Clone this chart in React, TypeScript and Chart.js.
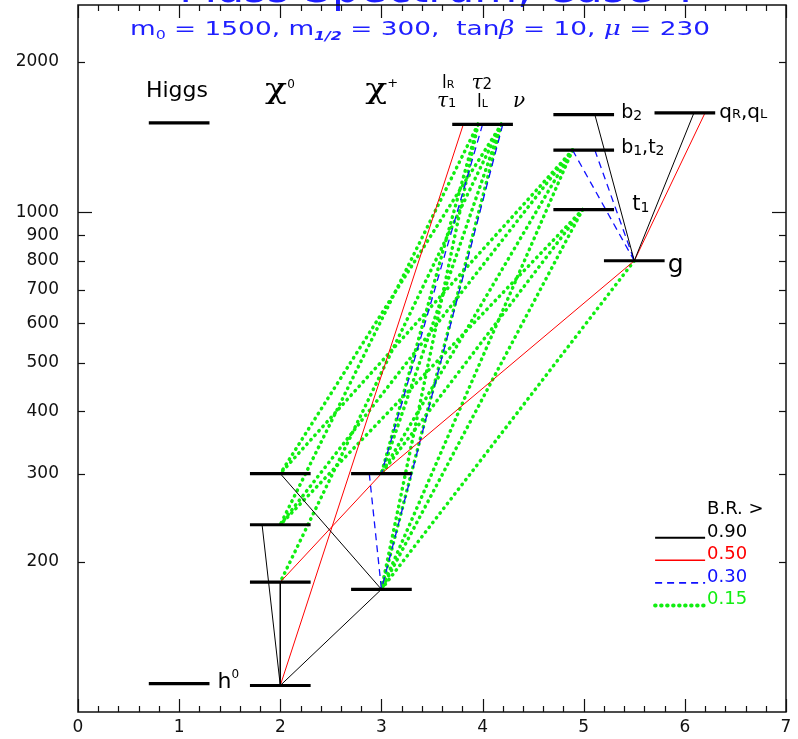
import React, { useEffect, useRef } from "react";
import { Chart, registerables } from "chart.js";
Chart.register(...registerables);

const SANS = '"DejaVu Sans", "Liberation Sans", Arial, sans-serif';
const SERIF = '"DejaVu Serif", "Liberation Serif", serif';

// axis ticks
const xTicks = [0, 1, 2, 3, 4, 5, 6, 7];
const yTicks = [200, 300, 400, 500, 600, 700, 800, 900, 1000, 2000];

// sparticle mass levels (GeV)
const levelNames = ["H", "h0", "chi01", "chi02", "chi03", "chi04", "chi+1", "chi+2", "sleptons", "b2", "b1,t2", "t1", "g", "qR,qL"];
const levelX = [1, 1, 2, 2, 2, 2, 3, 3, 4, 5, 5, 5, 5.5, 6];
const levelMass = [1510, 114, 113, 182, 237, 300, 176, 300, 1500, 1569, 1332, 1013, 800, 1582];

// decays: [fromX, fromMass, toX, toMass]
const decaysBR090 = [
  [2.0, 300, 3.0, 176],
  [1.82, 237, 2.0, 113],
  [2.0, 182, 2.0, 113],
  [3.0, 176, 2.0, 113],
  [5.11, 1569, 5.5, 800],
  [6.09, 1582, 5.5, 800],
];
const decaysBR050 = [
  [6.2, 1582, 5.5, 800],
  [3.81, 1500, 2.0, 113],
  [5.5, 800, 3.0, 300],
  [3.0, 300, 2.0, 182],
];
const decaysBR030 = [
  [2.88, 300, 3.0, 176],
  [4.0, 1500, 3.0, 300],
  [4.2, 1500, 3.0, 176],
  [4.89, 1332, 5.5, 800],
  [5.11, 1332, 5.5, 800],
];
const decaysBR015 = [
  [3.955, 1500, 2.0, 237],
  [3.955, 1500, 3.0, 176],
  [3.955, 1500, 3.0, 300],
  [4.186, 1500, 2.0, 300],
  [4.186, 1500, 2.0, 182],
  [4.186, 1500, 3.0, 176],
  [4.186, 1500, 3.0, 300],
  [4.89, 1332, 2.0, 300],
  [4.89, 1332, 2.0, 237],
  [4.89, 1332, 3.0, 300],
  [4.89, 1332, 3.0, 176],
  [4.99, 1013, 2.0, 237],
  [4.99, 1013, 3.0, 300],
  [4.99, 1013, 3.0, 176],
  [5.5, 800, 3.0, 176],
];

const brLabels = ["0.90", "0.50", "0.30", "0.15"];
const brColors = ["#000000", "#ff0000", "#1010ff", "#11ee11"];
const brWidths = [1, 1, 1.3, 3.5];
const brDashes = [[], [], [7, 5], [0.5, 5.5]];

type Run = [string, string, number?, number?];
// draws runs of text; optional per-run horizontal stretch
function drawRuns(ctx: CanvasRenderingContext2D, x: number, y: number, runs: Run[], measureOnly = false) {
  let cx = x;
  for (const [t, f, dy = 0, sx = 1] of runs) {
    ctx.font = f;
    const w = ctx.measureText(t).width * sx;
    if (!measureOnly) {
      ctx.save();
      ctx.translate(cx, y + dy);
      ctx.scale(sx, 1);
      ctx.fillText(t, 0, 0);
      ctx.restore();
    }
    cx += w;
  }
  return cx - x;
}

const decorPlugin = {
  id: "decor",
  afterDraw(chart: any) {
    const { ctx, chartArea: a, scales } = chart;
    const xs = scales.x;
    const ys = scales.y;
    const P = (xv: number, mv: number) => [xs.getPixelForValue(xv), ys.getPixelForValue(mv)];
    ctx.save();
    ctx.textAlign = "left";
    ctx.textBaseline = "alphabetic";

    // title (cut off at the top edge), drawn under the frame
    ctx.fillStyle = "#1f1fff";
    ctx.font = `44px ${SANS}`;
    ctx.textAlign = "center";
    ctx.fillText("Mass Spectrum, Case 4", 437, 2);
    ctx.textAlign = "left";

    // frame
    ctx.strokeStyle = "#111";
    ctx.lineWidth = 1.5;
    ctx.setLineDash([]);
    ctx.strokeRect(a.left, a.top, a.right - a.left, a.bottom - a.top);
    ctx.lineWidth = 1.2;
    const seg = (x0: number, y0: number, x1: number, y1: number) => {
      ctx.beginPath();
      ctx.moveTo(x0, y0);
      ctx.lineTo(x1, y1);
      ctx.stroke();
    };
    for (let i = 0; i <= 35; i++) {
      const px = Math.round(xs.getPixelForValue(i * 0.2)) + 0.5;
      const len = i % 5 === 0 ? 13 : 6;
      seg(px, a.bottom, px, a.bottom - len);
      seg(px, a.top, px, a.top + len);
    }
    for (const v of yTicks) {
      const py = Math.round(ys.getPixelForValue(v)) + 0.5;
      const len = v === 1000 ? 14 : 7;
      seg(a.left, py, a.left + len, py);
      seg(a.right, py, a.right - len, py);
    }

    // subtitle
    ctx.fillStyle = "#1f1fff";
    const sub: Run[] = [
      ["m", `20px ${SANS}`],
      ["0", `12px ${SANS}`, 4],
      [" = 1500, m", `20px ${SANS}`],
      ["1/2", `italic bold 12px ${SANS}`, 5],
      [" = 300,  tan", `20px ${SANS}`],
      ["β", `italic 20px ${SERIF}`],
      [" = 10, ", `20px ${SANS}`],
      ["μ", `italic 20px ${SERIF}`],
      [" = 230", `20px ${SANS}`],
    ];
    const w = drawRuns(ctx, 0, 0, sub, true);
    const sxs = 580 / w;
    ctx.save();
    ctx.translate(420 - 290, 35);
    ctx.scale(sxs, 1);
    drawRuns(ctx, 0, 0, sub);
    ctx.restore();

    // particle labels
    ctx.fillStyle = "#000";
    let p = P(0.672, 1700);
    drawRuns(ctx, p[0], p[1], [["Higgs", `22px ${SANS}`]]);
    p = P(1.85, 1690);
    drawRuns(ctx, p[0], p[1], [["χ", `28px ${SERIF}`, 0, 1.3], ["0", `12px ${SANS}`, -10]]);
    p = P(2.84, 1690);
    drawRuns(ctx, p[0], p[1], [["χ", `28px ${SERIF}`, 0, 1.3], ["+", `13px ${SANS}`, -11]]);
    p = P(3.6, 1777);
    drawRuns(ctx, p[0], p[1], [["l", `17px ${SANS}`], ["R", `11px ${SANS}`]]);
    p = P(3.89, 1769);
    drawRuns(ctx, p[0], p[1], [["τ", `italic 20px ${SERIF}`], ["2", `15px ${SANS}`]]);
    p = P(3.55, 1625);
    drawRuns(ctx, p[0], p[1], [["τ", `italic 20px ${SERIF}`], ["1", `13px ${SANS}`]]);
    p = P(3.945, 1625);
    drawRuns(ctx, p[0], p[1], [["l", `17px ${SANS}`], ["L", `11px ${SANS}`]]);
    p = P(4.3, 1625);
    drawRuns(ctx, p[0], p[1], [["ν", `italic 20px ${SERIF}`]]);
    p = P(5.37, 1544);
    drawRuns(ctx, p[0], p[1], [["b", `19px ${SANS}`], ["2", `14px ${SANS}`, 2]]);
    p = P(5.37, 1312);
    drawRuns(ctx, p[0], p[1], [["b", `19px ${SANS}`], ["1", `14px ${SANS}`, 2], [",", `19px ${SANS}`], ["t", `19px ${SANS}`], ["2", `14px ${SANS}`, 2]]);
    p = P(5.48, 1009);
    drawRuns(ctx, p[0], p[1], [["t", `21px ${SANS}`], ["1", `14px ${SANS}`, 2]]);
    p = P(5.83, 760);
    drawRuns(ctx, p[0], p[1], [["g", `25px ${SANS}`]]);
    p = P(6.34, 1544);
    drawRuns(ctx, p[0], p[1], [["q", `20px ${SANS}`], ["R", `13px ${SANS}`], [",", `20px ${SANS}`], ["q", `20px ${SANS}`], ["L", `13px ${SANS}`]]);
    p = P(1.38, 111.7);
    drawRuns(ctx, p[0], p[1], [["h", `22px ${SANS}`], ["0", `12px ${SANS}`, -10]]);

    // legend
    p = P(6.22, 249);
    ctx.font = `18px ${SANS}`;
    ctx.fillStyle = "#000";
    ctx.fillText("B.R. >", p[0], p[1]);
    brLabels.forEach((lbl, k) => {
      const by = p[1] + 22.6 * (k + 1);
      ctx.fillStyle = brColors[k];
      ctx.font = `18px ${SANS}`;
      ctx.fillText(lbl, p[0], by);
      ctx.strokeStyle = brColors[k];
      ctx.lineWidth = k === 0 ? 2 : brWidths[k] + 0.5;
      ctx.lineCap = k === 3 ? "round" : "butt";
      ctx.setLineDash(brDashes[k]);
      seg(p[0] - 52, by + 1, p[0] - 2, by + 1);
    });
    ctx.restore();
  },
};

export default function App() {
  const ref = useRef<HTMLCanvasElement>(null);
  useEffect(() => {
    document.body.style.margin = "0";
    const datasets: any[] = [];
    levelX.forEach((cx, i) => {
      datasets.push({
        label: levelNames[i],
        data: [
          { x: cx - 0.3, y: levelMass[i] },
          { x: cx + 0.3, y: levelMass[i] },
        ],
        borderColor: "#000",
        borderWidth: 3.2,
        showLine: true,
        pointRadius: 0,
      });
    });
    [decaysBR090, decaysBR050, decaysBR030, decaysBR015].forEach((set, k) => {
      set.forEach((d) => {
        datasets.push({
          label: "BR>" + brLabels[k],
          data: [
            { x: d[0], y: d[1] },
            { x: d[2], y: d[3] },
          ],
          borderColor: brColors[k],
          borderWidth: brWidths[k],
          borderDash: brDashes[k],
          borderCapStyle: k === 3 ? "round" : "butt",
          showLine: true,
          pointRadius: 0,
        });
      });
    });
    const chart = new Chart(ref.current as HTMLCanvasElement, {
      type: "scatter",
      data: { datasets },
      options: {
        animation: false,
        responsive: false,
        devicePixelRatio: 1,
        events: [],
        layout: { padding: { top: 5, right: 12, left: 0, bottom: 0 } },
        plugins: { legend: { display: false }, tooltip: { enabled: false }, title: { display: false } },
        scales: {
          x: {
            type: "linear",
            min: 0,
            max: 7,
            afterBuildTicks: (s: any) => {
              s.ticks = xTicks.map((v) => ({ value: v }));
            },
            afterFit: (s: any) => {
              s.height = 27;
              s.paddingLeft = 0;
              s.paddingRight = 0;
            },
            ticks: { callback: (v: any) => String(v), autoSkip: false, maxRotation: 0, padding: 5, color: "#111", font: { family: SANS, size: 17 } },
            grid: { display: false, drawTicks: false },
            border: { display: false },
          },
          y: {
            type: "logarithmic",
            min: 100,
            max: 2600,
            afterBuildTicks: (s: any) => {
              s.ticks = yTicks.map((v) => ({ value: v }));
            },
            afterFit: (s: any) => {
              s.width = 78;
              s.paddingTop = 0;
              s.paddingBottom = 0;
            },
            ticks: { callback: (v: any) => String(v), autoSkip: false, padding: 19, color: "#111", font: { family: SANS, size: 17 } },
            grid: { display: false, drawTicks: false },
            border: { display: false },
          },
        },
      },
      plugins: [decorPlugin],
    });
    return () => chart.destroy();
  }, []);
  return (
    <div style={{ width: 798, height: 739, background: "#fff" }}>
      <canvas ref={ref} width={798} height={739} style={{ display: "block" }} />
    </div>
  );
}
